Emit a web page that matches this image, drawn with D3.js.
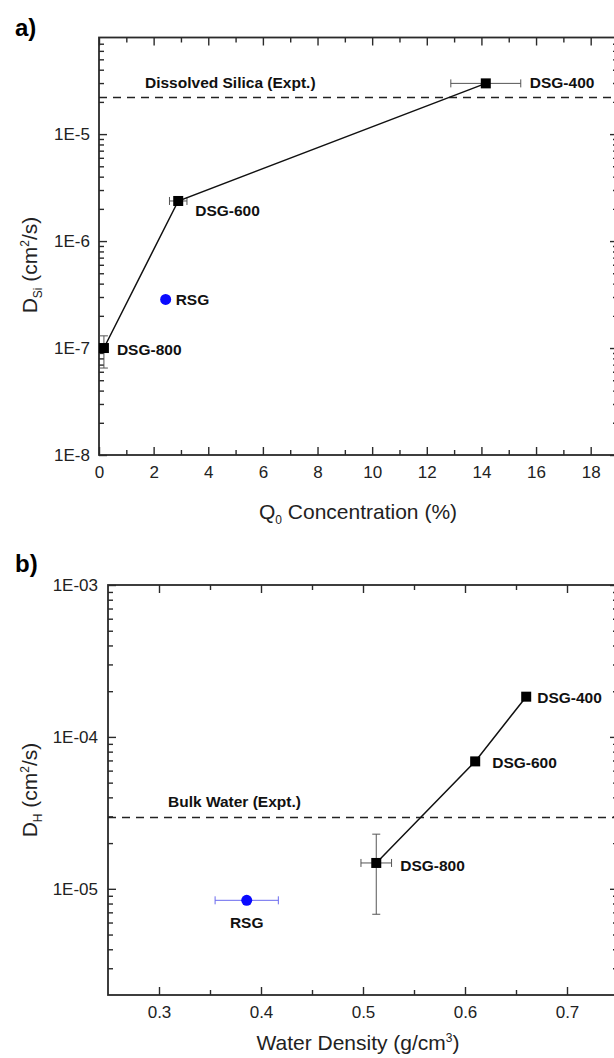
<!DOCTYPE html>
<html>
<head>
<meta charset="utf-8">
<script src="https://cdn.jsdelivr.net/npm/d3@7"></script>
<style>
  body { margin: 0; background: #fff; }
  svg { display: block; font-family: "Liberation Sans", Arial, sans-serif; }
  .tick text { fill: #222; }
</style>
</head>
<body>
<div id="chart"></div>
<script>
// ---- panel a data: silica diffusion vs Q0 concentration
const samplesA = ["DSG-800", "DSG-600", "DSG-400"];
const q0Conc = [0.18, 2.9, 14.16];
const q0Err = [0, 0.32, 1.28];
const dSi = [1.0e-7, 2.37e-6, 2.98e-5];
const dSiLow = [6.5e-8, 2.37e-6, 2.98e-5];
const dSiHigh = [1.3e-7, 2.37e-6, 2.98e-5];
const rsgA = { x: 2.44, y: 2.85e-7 };
const dissolvedSilica = 2.2e-5;
const xTicksA = [0, 2, 4, 6, 8, 10, 12, 14, 16, 18];
const yTicksA = [1e-8, 1e-7, 1e-6, 1e-5];

// ---- panel b data: water diffusion vs water density
const samplesB = ["DSG-800", "DSG-600", "DSG-400"];
const waterDens = [0.513, 0.610, 0.660];
const waterDensErr = [0.015, 0.004, 0];
const dH = [1.48e-5, 6.9e-5, 1.84e-4];
const dHLow = [6.8e-6, 6.6e-5, 1.84e-4];
const dHHigh = [2.29e-5, 7.2e-5, 1.84e-4];
const rsgB = { x: 0.386, xErr: 0.031, y: 8.4e-6 };
const bulkWater = 2.95e-5;
const xTicksB = [0.3, 0.4, 0.5, 0.6, 0.7];
const yTicksB = [1e-5, 1e-4, 1e-3];

const W = 614, H = 1058;
const svg = d3.select("#chart").append("svg")
  .attr("width", W).attr("height", H);

const axisColor = "#2a2a2a";

function logMinors(lo, hi) {
  const out = [];
  for (let e = Math.floor(Math.log10(lo)); e <= Math.ceil(Math.log10(hi)); e++) {
    for (let m = 2; m <= 9; m++) {
      const v = m * Math.pow(10, e);
      if (v > lo && v < hi) out.push(v);
    }
  }
  return out;
}

function drawFrame(g, x, y, xMajor, xMinor, yMajor, yFmt, xFmt, yPad) {
  const [x0, x1] = x.range();
  const [y0, y1] = y.range(); // y0 bottom, y1 top
  const yMinor = logMinors(y.domain()[0], y.domain()[1]);

  const styleAxis = sel => {
    sel.select(".domain").remove();
    sel.selectAll(".tick line").attr("stroke", axisColor).attr("stroke-width", 1.4);
    sel.attr("font-family", null).attr("font-size", null);
  };

  // bottom
  g.append("g").attr("transform", `translate(0,${y0})`)
    .call(d3.axisBottom(x).tickValues(xMajor).tickSize(-8).tickPadding(11).tickFormat(xFmt))
    .call(styleAxis)
    .selectAll("text").style("font-size", "17px");
  g.append("g").attr("transform", `translate(0,${y0})`)
    .call(d3.axisBottom(x).tickValues(xMinor).tickSize(-5).tickFormat(""))
    .call(styleAxis);
  // top
  g.append("g").attr("transform", `translate(0,${y1})`)
    .call(d3.axisTop(x).tickValues(xMajor).tickSize(-8).tickFormat(""))
    .call(styleAxis);
  g.append("g").attr("transform", `translate(0,${y1})`)
    .call(d3.axisTop(x).tickValues(xMinor).tickSize(-5).tickFormat(""))
    .call(styleAxis);
  // left
  g.append("g").attr("transform", `translate(${x0},0)`)
    .call(d3.axisLeft(y).tickValues(yMajor).tickSize(-8).tickPadding(yPad).tickFormat(yFmt))
    .call(styleAxis)
    .selectAll("text").style("font-size", "17px");
  g.append("g").attr("transform", `translate(${x0},0)`)
    .call(d3.axisLeft(y).tickValues(yMinor).tickSize(-5).tickFormat(""))
    .call(styleAxis);
  // right
  g.append("g").attr("transform", `translate(${x1},0)`)
    .call(d3.axisRight(y).tickValues(yMajor).tickSize(-8).tickFormat(""))
    .call(styleAxis);
  g.append("g").attr("transform", `translate(${x1},0)`)
    .call(d3.axisRight(y).tickValues(yMinor).tickSize(-5).tickFormat(""))
    .call(styleAxis);

  g.append("rect")
    .attr("x", x0).attr("y", y1)
    .attr("width", x1 - x0).attr("height", y0 - y1)
    .attr("fill", "none").attr("stroke", axisColor).attr("stroke-width", 1.8);
}

function errorBars(g, pts, color) {
  const cap = 4;
  pts.forEach(p => {
    if (p.x0 !== p.x1) {
      g.append("line").attr("x1", p.x0).attr("x2", p.x1).attr("y1", p.cy).attr("y2", p.cy)
        .attr("stroke", color).attr("stroke-width", 1);
      [p.x0, p.x1].forEach(xx => g.append("line")
        .attr("x1", xx).attr("x2", xx).attr("y1", p.cy - cap).attr("y2", p.cy + cap)
        .attr("stroke", color).attr("stroke-width", 1));
    }
    if (p.y0 !== p.y1) {
      g.append("line").attr("x1", p.cx).attr("x2", p.cx).attr("y1", p.y0).attr("y2", p.y1)
        .attr("stroke", color).attr("stroke-width", 1);
      [p.y0, p.y1].forEach(yy => g.append("line")
        .attr("x1", p.cx - cap).attr("x2", p.cx + cap).attr("y1", yy).attr("y2", yy)
        .attr("stroke", color).attr("stroke-width", 1));
    }
  });
}

function boldLabel(g, x, y, txt, anchor) {
  g.append("text").attr("x", x).attr("y", y)
    .attr("text-anchor", anchor || "start")
    .style("font-size", "15.5px").style("font-weight", "bold").style("fill", "#111")
    .text(txt);
}

// ================= Panel a =================
const xA = d3.scaleLinear().domain([0, 19]).range([99, 618]);
const yA = d3.scaleLog().domain([1e-8, 8e-5]).range([455, 37.5]);
const gA = svg.append("g");

drawFrame(gA, xA, yA, xTicksA, d3.range(1, 19, 2),
  yTicksA, d => "1E" + Math.round(Math.log10(d)), d3.format("d"), 9);

gA.append("line")
  .attr("x1", xA.range()[0]).attr("x2", xA.range()[1])
  .attr("y1", yA(dissolvedSilica)).attr("y2", yA(dissolvedSilica))
  .attr("stroke", "#222").attr("stroke-width", 1.5).attr("stroke-dasharray", "8,6");
boldLabel(gA, 145, 88, "Dissolved Silica (Expt.)");

const ptsA = samplesA.map((s, i) => ({
  cx: xA(q0Conc[i]), cy: yA(dSi[i]),
  x0: xA(q0Conc[i] - q0Err[i]), x1: xA(q0Conc[i] + q0Err[i]),
  y0: yA(dSiLow[i]), y1: yA(dSiHigh[i])
}));
errorBars(gA, ptsA, "#555");

gA.append("path")
  .datum(samplesA.map((s, i) => [q0Conc[i], dSi[i]]))
  .attr("fill", "none").attr("stroke", "#111").attr("stroke-width", 1.5)
  .attr("d", d3.line().x(d => xA(d[0])).y(d => yA(d[1])));

gA.selectAll("rect.pt").data(ptsA).enter().append("rect")
  .attr("class", "pt")
  .attr("x", d => d.cx - 5).attr("y", d => d.cy - 5)
  .attr("width", 10).attr("height", 10).attr("fill", "#000");

gA.append("circle").attr("cx", xA(rsgA.x)).attr("cy", yA(rsgA.y)).attr("r", 5.5).attr("fill", "#0a0aff");

boldLabel(gA, xA(q0Conc[0]) + 13, yA(dSi[0]) + 7, samplesA[0]);
boldLabel(gA, xA(q0Conc[1]) + 17, yA(dSi[1]) + 15, samplesA[1]);
boldLabel(gA, xA(q0Conc[2]) + 44, yA(dSi[2]) + 5, samplesA[2]);
boldLabel(gA, xA(rsgA.x) + 10, yA(rsgA.y) + 6, "RSG");

gA.append("text").attr("x", 15).attr("y", 36)
  .style("font-size", "24px").style("font-weight", "bold").text("a)");

const yTitleA = gA.append("text")
  .attr("transform", "translate(37,265) rotate(-90)")
  .attr("text-anchor", "middle").style("font-size", "21px").style("fill", "#222");
yTitleA.append("tspan").text("D");
yTitleA.append("tspan").attr("dy", 5).style("font-size", "12px").text("Si");
yTitleA.append("tspan").attr("dy", -5).text(" (cm");
yTitleA.append("tspan").attr("dy", -8).style("font-size", "12px").text("2");
yTitleA.append("tspan").attr("dy", 8).text("/s)");

const xTitleA = gA.append("text")
  .attr("x", 358).attr("y", 519)
  .attr("text-anchor", "middle").style("font-size", "21px").style("fill", "#222");
xTitleA.append("tspan").text("Q");
xTitleA.append("tspan").attr("dy", 5).style("font-size", "12px").text("0");
xTitleA.append("tspan").attr("dy", -5).text(" Concentration (%)");

// ================= Panel b =================
const xB = d3.scaleLinear().domain([0.25, 0.75]).range([108, 618]);
const yB = d3.scaleLog().domain([2e-6, 1e-3]).range([995, 585]);
const gB = svg.append("g");

drawFrame(gB, xB, yB, xTicksB, [0.35, 0.45, 0.55, 0.65],
  yTicksB, d => "1E-0" + Math.round(-Math.log10(d)), d3.format(".1f"), 10);

gB.append("line")
  .attr("x1", xB.range()[0]).attr("x2", xB.range()[1])
  .attr("y1", yB(bulkWater)).attr("y2", yB(bulkWater))
  .attr("stroke", "#222").attr("stroke-width", 1.5).attr("stroke-dasharray", "8,6");
boldLabel(gB, 168, 807, "Bulk Water (Expt.)");

const ptsB = samplesB.map((s, i) => ({
  cx: xB(waterDens[i]), cy: yB(dH[i]),
  x0: xB(waterDens[i] - waterDensErr[i]), x1: xB(waterDens[i] + waterDensErr[i]),
  y0: yB(dHLow[i]), y1: yB(dHHigh[i])
}));
errorBars(gB, ptsB, "#555");
errorBars(gB, [{
  cx: xB(rsgB.x), cy: yB(rsgB.y),
  x0: xB(rsgB.x - rsgB.xErr), x1: xB(rsgB.x + rsgB.xErr),
  y0: yB(rsgB.y), y1: yB(rsgB.y)
}], "#6a6aee");

gB.append("path")
  .datum(samplesB.map((s, i) => [waterDens[i], dH[i]]))
  .attr("fill", "none").attr("stroke", "#111").attr("stroke-width", 1.5)
  .attr("d", d3.line().x(d => xB(d[0])).y(d => yB(d[1])));

gB.selectAll("rect.pt").data(ptsB).enter().append("rect")
  .attr("class", "pt")
  .attr("x", d => d.cx - 5).attr("y", d => d.cy - 5)
  .attr("width", 10).attr("height", 10).attr("fill", "#000");

gB.append("circle").attr("cx", xB(rsgB.x)).attr("cy", yB(rsgB.y)).attr("r", 5.5).attr("fill", "#0a0aff");

boldLabel(gB, xB(waterDens[0]) + 24, yB(dH[0]) + 8, samplesB[0]);
boldLabel(gB, xB(waterDens[1]) + 17, yB(dH[1]) + 7, samplesB[1]);
boldLabel(gB, xB(waterDens[2]) + 11, yB(dH[2]) + 6, samplesB[2]);
boldLabel(gB, xB(rsgB.x), yB(rsgB.y) + 28, "RSG", "middle");

gB.append("text").attr("x", 15).attr("y", 572)
  .style("font-size", "24px").style("font-weight", "bold").text("b)");

const yTitleB = gB.append("text")
  .attr("transform", "translate(37,790) rotate(-90)")
  .attr("text-anchor", "middle").style("font-size", "21px").style("fill", "#222");
yTitleB.append("tspan").text("D");
yTitleB.append("tspan").attr("dy", 5).style("font-size", "12px").text("H");
yTitleB.append("tspan").attr("dy", -5).text(" (cm");
yTitleB.append("tspan").attr("dy", -8).style("font-size", "12px").text("2");
yTitleB.append("tspan").attr("dy", 8).text("/s)");

const xTitleB = gB.append("text")
  .attr("x", 358).attr("y", 1050)
  .attr("text-anchor", "middle").style("font-size", "21px").style("fill", "#222");
xTitleB.append("tspan").text("Water Density (g/cm");
xTitleB.append("tspan").attr("dy", -8).style("font-size", "12px").text("3");
xTitleB.append("tspan").attr("dy", 8).text(")");
</script>
</body>
</html>
